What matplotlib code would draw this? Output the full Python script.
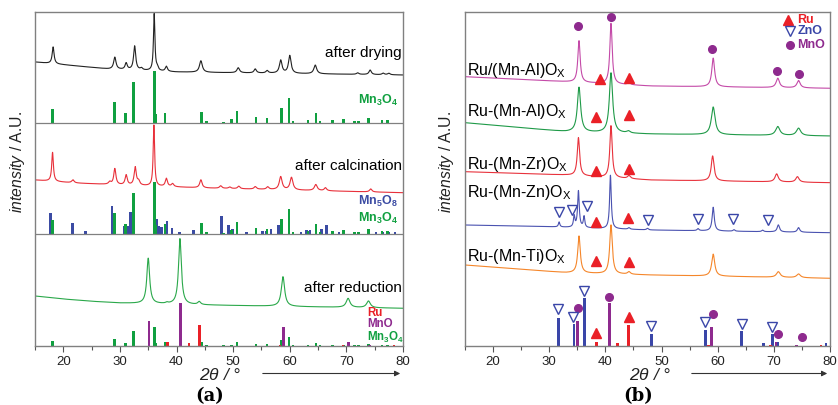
import numpy as np
import matplotlib
matplotlib.use("Agg")
import matplotlib.pyplot as plt

plt.rcParams["font.family"] = ["Liberation Sans", "DejaVu Sans"]
plt.rcParams["mathtext.fontset"] = "custom"
plt.rcParams["mathtext.rm"] = "Liberation Sans"
plt.rcParams["mathtext.it"] = "Liberation Sans:italic"
plt.rcParams["mathtext.bf"] = "Liberation Sans:bold"

# ---------------- reference patterns (stick positions, heights) ----------------
mn3o4_pos = [18.1, 29.0, 31.0, 32.4, 36.1, 36.4, 38.0, 44.4, 45.3, 48.3, 49.7, 50.7, 54.0,
             56.0, 58.5, 59.9, 60.6, 63.2, 64.6, 65.3, 67.5, 69.5, 71.4, 72.1, 73.9, 76.3, 77.3]
mn3o4_int = [14, 20.7, 9.7, 40.7, 52.3, 8.7, 10.3, 11.3, 2, 1.5, 4, 12, 6,
             5.3, 15.3, 25.3, 2.3, 2.7, 9.7, 2, 2.7, 3.7, 2, 2, 5, 3, 3]
mn5o8_pos = [17.7, 21.6, 23.9, 28.6, 30.7, 31.3, 31.9, 36.5, 36.9, 37.3, 38.3, 39.2, 40.5,
             43.0, 47.9, 49.2, 49.9, 52.4, 55.2, 55.9, 56.7, 58.0, 62.0, 63.0, 63.6, 65.6,
             66.5, 67.5, 68.7, 75.2, 76.4, 77.5, 78.6]
mn5o8_int = [21, 11, 3.3, 27.7, 8.3, 8.3, 21.7, 15, 7.7, 6.7, 13.3, 6, 2,
             4.3, 18.3, 9.3, 5, 2, 3.3, 3.3, 5, 9.3, 2, 4.3, 4.3, 5,
             9.3, 3.3, 2, 2, 2, 2, 2]
mno_pos = [35.1, 40.7, 58.9, 70.4, 74.1]
mno_int = [25.5, 43.5, 19.5, 4.5, 1.5]
ru_pos = [38.4, 42.2, 44.1, 58.3, 69.4, 78.4]
ru_int = [4.3, 3.2, 21, 1, 1, 1]
zno_pos = [31.6, 34.4, 36.3, 48.2, 57.8, 64.3, 68.1, 69.7, 70.6, 79.3]
zno_int = [27.7, 22, 47.7, 12, 16.3, 15, 3.3, 12, 4, 3.3]

# ---------------- measured patterns (panel a) ----------------
# baseline knots (2theta, level) and peaks (position, height, fwhm)
dry_bx = [15, 28, 40, 60, 80]
dry_by = [284, 277, 274, 272.5, 271]
dry_pk = [18.2, 29.1, 31.1, 32.6, 33.8, 36.05, 36.6, 38.2, 44.3, 50.9, 53.9, 56.0,
          58.4, 60.0, 64.5, 72.0, 74.2, 76.5, 77.5]
dry_h = [16.8, 12, 6.5, 24, 2, 57, 3, 5, 11.5, 5, 4, 2.5,
         13, 17.8, 8.7, 1.5, 4.5, 1.5, 1.5]
dry_w = [0.4, 0.5, 0.45, 0.45, 0.5, 0.3, 0.4, 0.45, 0.6, 0.55, 0.5, 0.5,
         0.55, 0.55, 0.6, 0.5, 0.5, 0.5, 0.5]

cal_bx = [15, 22, 30, 45, 60, 80]
cal_by = [166, 163, 161, 158, 156, 153.3]
cal_pk = [18.1, 21.7, 28.2, 29.1, 31.1, 32.7, 33.3, 36.0, 38.2, 39.3, 44.3, 47.8, 49.4,
          51.0, 53.9, 56.1, 58.4, 60.3, 64.6, 66.3, 74.3]
cal_h = [29, 3, 2.5, 16, 10, 18, 4, 61, 8, 3, 8, 2.5, 1.5,
         2.5, 2.5, 2.5, 13, 12.5, 6, 3, 3]
cal_w = [0.35, 0.5, 0.5, 0.45, 0.45, 0.45, 0.5, 0.3, 0.45, 0.5, 0.5, 0.5, 0.5,
         0.5, 0.5, 0.5, 0.6, 0.6, 0.6, 0.5, 0.5]

red_bx = [15, 20, 25, 30, 35, 45, 60, 80]
red_by = [50, 47, 44.7, 43, 42.3, 41, 39.5, 37.7]
red_pk = [35.0, 38.3, 40.6, 44.0, 58.8, 70.3, 73.9]
red_h = [45.4, 1, 65.7, 3, 29.7, 9, 6.7]
red_w = [0.6, 0.5, 0.6, 0.6, 0.7, 0.8, 0.8]

# ---------------- measured patterns (panel b) ----------------
mal1_bx = [15, 33, 48, 80]
mal1_by = [269.3, 264.3, 260, 257.7]
mal1_pk = [35.3, 41.0, 44.2, 59.2, 70.7, 74.4]
mal1_h = [41.6, 60.7, 2, 28.7, 9.4, 7.3]
mal1_w = [0.5, 0.5, 0.6, 0.6, 0.7, 0.7]

mal2_bx = [15, 33, 48, 80]
mal2_by = [223.3, 214.3, 212, 210]
mal2_pk = [35.3, 41.0, 44.1, 59.2, 70.7, 74.4]
mal2_h = [44.7, 60, 2, 27.7, 8.8, 7.4]
mal2_w = [0.7, 0.7, 0.7, 0.8, 0.9, 0.9]

mzr_bx = [15, 33, 48, 80]
mzr_by = [174.3, 171, 166, 163.3]
mzr_pk = [35.2, 41.0, 44.2, 59.1, 70.5, 74.2]
mzr_h = [38, 52, 3, 25, 8, 5.5]
mzr_w = [0.5, 0.5, 0.6, 0.6, 0.7, 0.7]

mzn_bx = [15, 30, 48, 80]
mzn_by = [121, 119.3, 116, 113.3]
mzn_pk = [31.76, 34.44, 35.2, 36.2, 40.9, 44.2, 47.5, 56.5, 59.2, 62.9, 68.0, 70.8, 74.4]
mzn_h = [5, 11, 36.5, 11, 53.5, 1.5, 1.5, 2, 23.7, 1.5, 1.5, 7, 4.6]
mzn_w = [0.3, 0.3, 0.35, 0.3, 0.35, 0.4, 0.4, 0.4, 0.45, 0.4, 0.4, 0.5, 0.5]

mti_bx = [15, 33, 48, 65, 80]
mti_by = [81, 73.3, 71, 69.3, 67.7]
mti_pk = [35.3, 41.0, 44.2, 59.2, 70.8, 74.4]
mti_h = [37, 49, 2.5, 22, 5.6, 3.7]
mti_w = [0.55, 0.55, 0.6, 0.65, 0.8, 0.8]

# marker positions above the curves
ru_mk_x = [39.0, 44.2, 38.4, 44.2, 38.4, 44.2, 38.4, 43.96, 38.4, 44.2, 38.4, 44.25]
ru_mk_y = [267, 267.7, 228.7, 231, 175, 176.7, 124.3, 128.3, 85.3, 84.3, 13.3, 28.7]
mno_mk_x = [35.15, 41.0, 59.0, 70.6, 74.4, 35.04, 40.7, 59.2, 70.8, 75.1]
mno_mk_y = [320, 329.3, 296.7, 275.3, 272, 38.3, 49.3, 31.7, 12, 9.3]
zno_mk_x = [31.76, 34.1, 36.65, 47.5, 56.5, 62.8, 68.9, 31.6, 34.3, 36.2, 48.1, 57.8, 64.3, 69.6]
zno_mk_y = [134.3, 136, 140, 126, 126.7, 126.7, 126, 36.7, 29.3, 55, 20.3, 24.3, 22, 19.3]

sample_labels = [r"Ru/(Mn-Al)O$_\mathregular{X}$", r"Ru-(Mn-Al)O$_\mathregular{X}$",
                 r"Ru-(Mn-Zr)O$_\mathregular{X}$", r"Ru-(Mn-Zn)O$_\mathregular{X}$",
                 r"Ru-(Mn-Ti)O$_\mathregular{X}$"]
sample_label_y = [271, 230, 177, 149.5, 84.5]

c_mn3o4 = "#10a040"
c_mn5o8 = "#3b4ba3"
c_mno = "#8e2a8e"
c_ru = "#ea2027"
c_zno = "#3a46a8"

x = np.linspace(15, 80, 4000)


def pattern(bx, by, pk, h, w):
    y = np.interp(x, bx, by)
    for p, a, f in zip(pk, h, w):
        y = y + a / (1 + ((x - p) / (f / 2)) ** 2)
    return y


def style_axes(ax):
    ax.set_xlim(15, 80)
    ax.set_ylim(0, 334)
    ax.set_yticks([])
    ax.set_xticks(range(20, 81, 10))
    ax.set_xticks(range(15, 80, 10), minor=True)
    ax.tick_params(axis="x", which="both", direction="out", colors="#555555",
                   labelcolor="#222222", labelsize=9.5, width=0.8)
    ax.tick_params(axis="x", which="major", length=4)
    ax.tick_params(axis="x", which="minor", length=3)
    for s in ax.spines.values():
        s.set_color("#808080")
        s.set_linewidth(1.0)


fig = plt.figure(figsize=(8.38, 4.05), dpi=100)

# ======================= panel (a) =======================
ax = fig.add_axes([35 / 838, 59 / 405, 368 / 838, 334 / 405])
style_axes(ax)
ax.axhline(223, color="#808080", lw=0.9)
ax.axhline(112, color="#808080", lw=0.9)

ax.plot(x, pattern(dry_bx, dry_by, dry_pk, dry_h, dry_w), color="#222222", lw=0.8)
ax.plot(x, pattern(cal_bx, cal_by, cal_pk, cal_h, cal_w), color="#e8303a", lw=0.8)
ax.plot(x, pattern(red_bx, red_by, red_pk, red_h, red_w), color="#2aa84a", lw=0.8)

ax.bar(mn3o4_pos, mn3o4_int, width=0.45, bottom=223, color=c_mn3o4)
ax.bar(mn5o8_pos, mn5o8_int, width=0.45, bottom=112, color=c_mn5o8)
ax.bar(mn3o4_pos, mn3o4_int, width=0.45, bottom=112, color=c_mn3o4)
ax.bar(mn3o4_pos, np.array(mn3o4_int) * 0.36, width=0.45, color=c_mn3o4)
ax.bar(mno_pos, mno_int, width=0.45, color=c_mno)
ax.bar(ru_pos, ru_int, width=0.45, color=c_ru)

ax.text(79.8, 293, "after drying", ha="right", va="center", fontsize=11)
ax.text(79.8, 180, "after calcination", ha="right", va="center", fontsize=11)
ax.text(79.8, 58, "after reduction", ha="right", va="center", fontsize=11)
ax.text(79.2, 246, r"$\mathbf{Mn_3O_4}$", ha="right", va="center", fontsize=9, color=c_mn3o4)
ax.text(79.1, 145, r"$\mathbf{Mn_5O_8}$", ha="right", va="center", fontsize=9, color=c_mn5o8)
ax.text(79.1, 128, r"$\mathbf{Mn_3O_4}$", ha="right", va="center", fontsize=9, color=c_mn3o4)
ax.text(73.6, 33, "Ru", ha="left", va="center", fontsize=8.3, color=c_ru, fontweight="bold")
ax.text(73.6, 22.3, "MnO", ha="left", va="center", fontsize=8.3, color=c_mno, fontweight="bold")
ax.text(73.6, 8.5, r"$\mathbf{Mn_3O_4}$", ha="left", va="center", fontsize=8.3, color=c_mn3o4)

# ======================= panel (b) =======================
bx_ = fig.add_axes([465 / 838, 59 / 405, 365 / 838, 334 / 405])
style_axes(bx_)

bx_.plot(x, pattern(mal1_bx, mal1_by, mal1_pk, mal1_h, mal1_w), color="#c44aa8", lw=0.8)
bx_.plot(x, pattern(mal2_bx, mal2_by, mal2_pk, mal2_h, mal2_w), color="#1f9a48", lw=0.8)
bx_.plot(x, pattern(mzr_bx, mzr_by, mzr_pk, mzr_h, mzr_w), color="#e8323c", lw=0.8)
bx_.plot(x, pattern(mzn_bx, mzn_by, mzn_pk, mzn_h, mzn_w), color="#4a52b0", lw=0.8)
bx_.plot(x, pattern(mti_bx, mti_by, mti_pk, mti_h, mti_w), color="#f5862a", lw=0.8)

bx_.bar(zno_pos, zno_int, width=0.5, color=c_zno)
bx_.bar(mno_pos, mno_int, width=0.5, color=c_mno)
bx_.bar(ru_pos, ru_int, width=0.5, color=c_ru)

bx_.plot(ru_mk_x, ru_mk_y, ls="none", marker="^", ms=7.5, color=c_ru)
bx_.plot(mno_mk_x, mno_mk_y, ls="none", marker="o", ms=5.5, color=c_mno)
bx_.plot(zno_mk_x, zno_mk_y, ls="none", marker="v", ms=7.5, mfc="white", mec=c_zno, mew=1.0)

for lab, ly in zip(sample_labels, sample_label_y):
    bx_.text(15.3, ly, lab, ha="left", va="baseline", fontsize=11.5)

# legend
bx_.plot([72.6], [326], ls="none", marker="^", ms=7.5, color=c_ru)
bx_.plot([72.9], [315.3], ls="none", marker="v", ms=7.5, mfc="white", mec=c_zno, mew=1.0)
bx_.plot([72.8], [301], ls="none", marker="o", ms=5.5, color=c_mno)
bx_.text(74.2, 326, "Ru", ha="left", va="center", fontsize=9, fontweight="bold", color=c_ru)
bx_.text(74.2, 315.3, "ZnO", ha="left", va="center", fontsize=9, fontweight="bold", color=c_zno)
bx_.text(74.2, 301, "MnO", ha="left", va="center", fontsize=9, fontweight="bold", color=c_mno)

# ======================= axis texts =======================
for xc in (18 / 838, 446 / 838):
    fig.text(xc, (405 - 162.5) / 405, r"$\mathit{intensity}$ / A.U.", rotation=90,
             ha="center", va="center", fontsize=11.3, color="#222222")

for xc, x0, x1, lab, xl in ((220, 260, 403, "(a)", 210), (650, 689, 830, "(b)", 638)):
    fig.text(xc / 838, 1 - 375 / 405, r"2$\mathit{\theta}$ / °", ha="center", va="center",
             fontsize=12.5, style="italic", color="#222222")
    fig.add_artist(matplotlib.patches.FancyArrowPatch(
        (x0 / 838, 1 - 373.5 / 405), (x1 / 838, 1 - 373.5 / 405),
        transform=fig.transFigure, arrowstyle="-|>", mutation_scale=8,
        color="#333333", lw=0.8))
    fig.text(xl / 838, 1 - 396 / 405, lab, ha="center", va="center", fontsize=13,
             family="DejaVu Serif", fontweight="bold")

fig.savefig("out.png", dpi=100)
